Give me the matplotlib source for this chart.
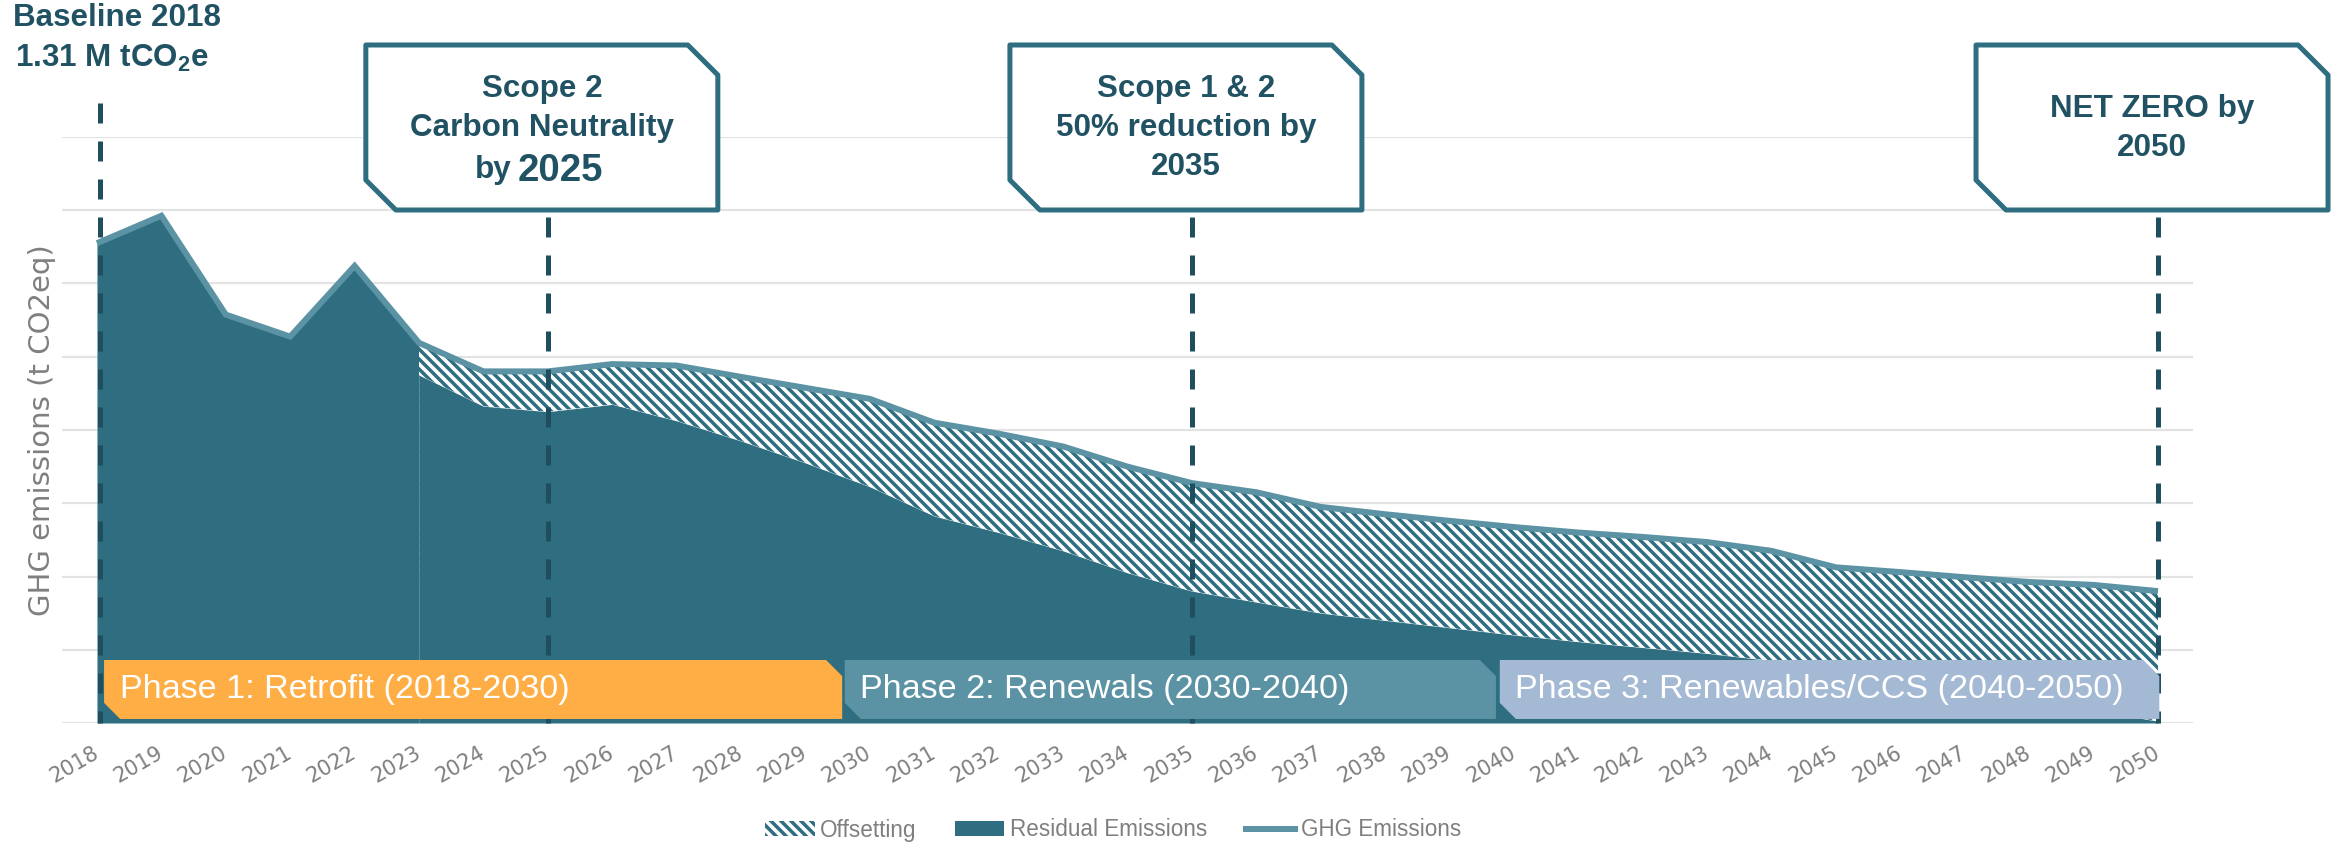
import numpy as np
import matplotlib.pyplot as plt
from matplotlib.patches import Polygon, Patch
from matplotlib.lines import Line2D
from matplotlib.transforms import IdentityTransform

plt.rcParams['font.family'] = ['Liberation Sans', 'DejaVu Sans']
plt.rcParams['mathtext.default'] = 'regular'
plt.rcParams['hatch.linewidth'] = 2.1

# emissions in t CO2e, history up to 2023 then the trajectory to 2050
years = list(range(2018, 2051))
ghg_emissions = [1310000, 1385000, 1115000, 1055000, 1248000, 1038000, 960000, 960000,
                 980000, 976000, 945000, 915000, 885000, 820000, 790000, 755000,
                 700000, 655000, 630000, 590000, 570000, 552000, 535000, 520000,
                 508000, 494000, 470000, 425000, 412000, 398000, 385000, 377000, 360000]
residual_emissions = [1310000, 1385000, 1115000, 1055000, 1248000, 950000, 865000, 850000,
                      870000, 825000, 770000, 710000, 645000, 565000, 520000, 470000,
                      410000, 360000, 330000, 300000, 280000, 260000, 240000, 222000,
                      206000, 190000, 170000, 145000, 120000, 92000, 64000, 34000, 5000]
projection_start = 2023

milestone_years = [2025, 2035, 2050]
milestone_lines = [["Scope 2", "Carbon Neutrality", "by"],
                   ["Scope 1 & 2", "50% reduction by", "2035"],
                   ["NET ZERO by", "2050"]]
milestone_big_year = [True, False, False]

phase_labels = ["Phase 1: Retrofit (2018-2030)",
                "Phase 2: Renewals (2030-2040)",
                "Phase 3: Renewables/CCS (2040-2050)"]
phase_colors = ["#feae45", "#5b93a4", "#a4b9d3"]

legend_labels = ["Offsetting", "Residual Emissions", "GHG Emissions"]

teal = "#2e6e80"
light_teal = "#5b93a4"
dark = "#1f4e5e"
text_dark = "#215264"
grey = "#7f7f7f"
HATCH = '\\\\\\\\'

DPI = 120
W, H = 2336, 843
fig = plt.figure(figsize=(W / DPI, H / DPI), dpi=DPI)
ax = fig.add_axes([62 / W, 1 - 723 / H, (2193 - 62) / W, (723 - 137) / H])

yrs = np.array(years)
ghg = np.array(ghg_emissions)
res = np.array(residual_emissions)
hist = yrs <= projection_start
proj = yrs >= projection_start

ax.set_xlim(2017.457, 2050.543)
ax.set_ylim(0, 1600000)
ax.set_yticks(np.arange(0, 1600001, 200000))
ax.set_yticklabels([])
ax.grid(axis='y', color='#e3e3e3', lw=1.3, zorder=0)
ax.set_axisbelow(True)
for s in ax.spines.values():
    s.set_visible(False)

# historic emissions, residual after 2023 and the offset part in between
ax.fill_between(yrs[hist], 0, ghg[hist], color=teal, lw=0, zorder=1)
ax.fill_between(yrs[proj], 0, res[proj], color=teal, lw=0, zorder=1)
ax.fill_between(yrs[proj], res[proj], ghg[proj], facecolor='white',
                edgecolor=teal, hatch=HATCH, lw=0, zorder=1)
ax.vlines(projection_start, 0, res[proj][0], colors='#4f8797', lw=0.7,
          linestyles=(0, (4, 3)), zorder=1.5)
ax.plot(yrs, ghg, color=light_teal, lw=3.6, solid_joinstyle='miter',
        solid_capstyle='butt', zorder=3)

ax.set_xticks(years)
ax.set_xticklabels([str(y) for y in years], rotation=30, ha='right', va='center',
                   rotation_mode='anchor', fontsize=12.5, color=grey,
                   family='DejaVu Sans')
ax.tick_params(axis='x', length=0, pad=17)
ax.tick_params(axis='y', length=0)
ax.set_ylabel("GHG emissions (t CO2eq)", fontsize=17.5, color=grey,
              family='DejaVu Sans')
ax.yaxis.set_label_coords(-0.003, 0.5)

inv = ax.transData.inverted()
to_px = ax.transData.transform
dash = (0, (4, 3.6))

# baseline marker
ax.plot([years[0] + 0.05] * 2, [inv.transform((0, H - 103))[1], 0], color=dark,
        lw=3, linestyle=dash, clip_on=False, zorder=4)
fig.text(13, H - 18, f"Baseline {years[0]}", transform=IdentityTransform(),
         fontsize=18.8, fontweight='bold', color=text_dark, va='center', ha='left')
fig.text(15, H - 58, f"{ghg_emissions[0] / 1e6:.2f} M tCO$_2$e",
         transform=IdentityTransform(), fontsize=18.8, fontweight='bold',
         color=text_dark, va='center', ha='left')

# milestone callouts
for year, lines, big in zip(milestone_years, milestone_lines, milestone_big_year):
    xc = to_px((year, 0))[0]
    ax.plot([year, year], [inv.transform((0, H - 217))[1], 0], color=dark, lw=3,
            linestyle=dash, clip_on=False, zorder=4)
    left, right, top, bottom, c = xc - 182, xc + 170, H - 45, H - 210, 30
    verts = [(left, top), (right - c, top), (right, top - c), (right, bottom),
             (left + c, bottom), (left, bottom + c)]
    fig.add_artist(Polygon(verts, closed=True, facecolor='white', edgecolor=teal,
                           lw=3, joinstyle='round', transform=IdentityTransform(),
                           zorder=5))
    cx = (left + right) / 2
    n = len(lines)
    for i, line in enumerate(lines):
        yline = H - (128 + (i - (n - 1) / 2) * 39)
        if big and i == n - 1:
            fig.text(cx - 30, yline - 3, line, transform=IdentityTransform(),
                     fontsize=18.8, fontweight='bold', color=text_dark,
                     ha='right', va='center', zorder=6)
            fig.text(cx - 24, yline - 4, str(year), transform=IdentityTransform(),
                     fontsize=23, fontweight='bold', color=text_dark,
                     ha='left', va='center', zorder=6)
        else:
            fig.text(cx, yline, line, transform=IdentityTransform(), fontsize=18.8,
                     fontweight='bold', color=text_dark, ha='center', va='center',
                     zorder=6)

# phase ribbons along the bottom
phase_spans = [(2018.11, 2029.57), (2029.61, 2039.72), (2039.78, 2050.02)]
y_bot, y_top = 11000, 172000
cut_x, cut_y = 0.25, 44000
for (x0, x1), label, col in zip(phase_spans, phase_labels, phase_colors):
    verts = [(x0, y_top), (x1 - cut_x, y_top), (x1, y_top - cut_y), (x1, y_bot),
             (x0 + cut_x, y_bot), (x0, y_bot + cut_y)]
    ax.add_patch(Polygon(verts, closed=True, facecolor=col, lw=0, zorder=6))
    ax.text(x0 + 0.24, (y_bot + y_top) / 2, label, color='white', fontsize=20.5,
            ha='left', va='center', zorder=7)

handles = [Patch(facecolor='white', edgecolor=teal, hatch=HATCH, lw=0),
           Patch(facecolor=teal, lw=0),
           Line2D([], [], color=light_teal, lw=3.6)]
fig.legend(handles, legend_labels, loc='center', bbox_to_anchor=(1113 / W, 1 - 830 / H),
           ncol=3, frameon=False, fontsize=13.5, handlelength=2.2, handleheight=0.6,
           handletextpad=0.25, columnspacing=1.7, labelcolor=grey)

fig.savefig('out.png', dpi=DPI)
